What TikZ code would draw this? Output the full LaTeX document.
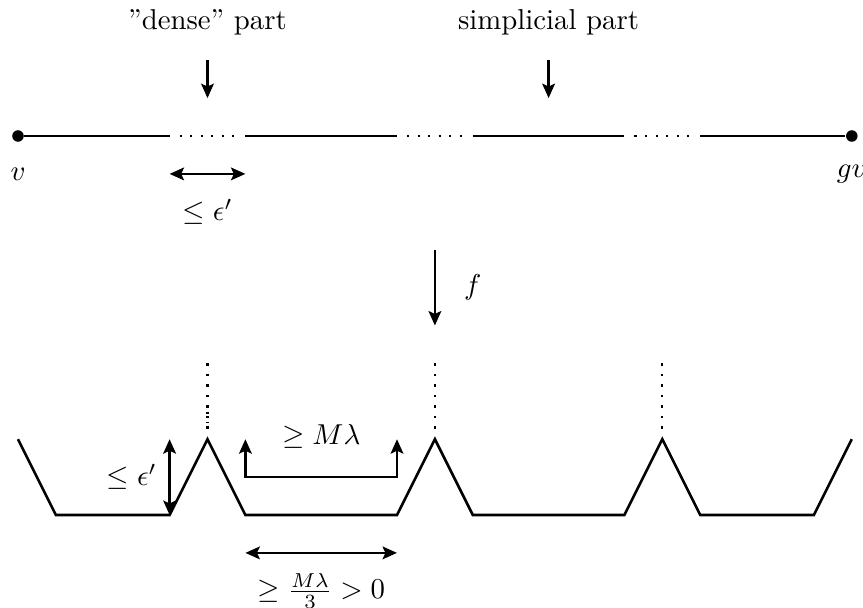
\documentclass[tikz,border=0pt]{standalone}
\usetikzlibrary{arrows.meta}
\begin{document}
\begin{tikzpicture}[x=0.925cm,y=0.925cm,
  line/.style={line width=0.9pt},
  dots/.style={line width=0.75pt, dash pattern=on 0.75pt off 2.9pt},
  arr/.style={line width=0.9pt,-{Stealth[length=5pt,width=4.4pt,inset=1pt]}},
  darr/.style={line width=0.9pt,{Stealth[length=5pt,width=4.4pt,inset=1pt]}-{Stealth[length=5pt,width=4.4pt,inset=1pt]}},
  dot/.style={circle,fill,inner sep=0pt,minimum size=4pt}]
\useasboundingbox (-0.2375,-6.227) rectangle (11.148,1.794);

% top segment
\node[dot] (v) at (0,0) {};
\node[dot] (gv) at (11,0) {};
\coordinate (a1) at (2,0);
\coordinate (a2) at (3,0);
\coordinate (a3) at (5,0);
\coordinate (a4) at (6,0);
\coordinate (a5) at (8,0);
\coordinate (a6) at (9,0);
\draw[line] (v) -- (a1);
\draw[line] (a2) -- (a3);
\draw[line] (a4) -- (a5);
\draw[line] (a6) -- (gv);
\draw[dots, shorten <=3.5pt, shorten >=2pt] (a1) -- (a2);
\draw[dots, shorten <=3.5pt, shorten >=2pt] (a3) -- (a4);
\draw[dots, shorten <=3.5pt, shorten >=2pt] (a5) -- (a6);

\node (vl) at (0,-0.5) {$v$};
\node (gvl) at (11,-0.5) {$gv$};

\node (dense) at (2.5,1.5) {”dense” part};
\coordinate (dA) at (2.5,1);
\coordinate (dB) at (2.5,0.5);
\draw[arr] (dA) -- (dB);
\node (simp) at (7,1.5) {simplicial part};
\coordinate (sA) at (7,1);
\coordinate (sB) at (7,0.5);
\draw[arr] (sA) -- (sB);

\coordinate (eA) at (2,-0.5);
\coordinate (eB) at (3,-0.5);
\draw[darr] (eA) -- (eB);
\node (el) at (2.5,-1) {$\leq \epsilon'$};

% map f
\coordinate (fA) at (5.5,-1.5);
\coordinate (fB) at (5.5,-2.5);
\draw[arr] (fA) -- (fB);
\node (fl) at (6,-2) {$f$};

% bottom zigzag
\coordinate (b0) at (0,-4);
\coordinate (b1) at (0.5,-5);
\coordinate (b2) at (2,-5);
\coordinate (p1) at (2.5,-4);
\coordinate (b3) at (3,-5);
\coordinate (b4) at (5,-5);
\coordinate (p2) at (5.5,-4);
\coordinate (b5) at (6,-5);
\coordinate (b6) at (8,-5);
\coordinate (p3) at (8.5,-4);
\coordinate (b7) at (9,-5);
\coordinate (b8) at (10.5,-5);
\coordinate (b9) at (11,-4);
\draw[line] (b0) -- (b1) -- (b2) -- (p1) -- (b3) -- (b4) -- (p2) -- (b5) -- (b6) -- (p3) -- (b7) -- (b8) -- (b9);

\coordinate (q1) at (2.5,-3);
\coordinate (q2) at (5.5,-3);
\coordinate (q3) at (8.5,-3);
\draw[dots, shorten >=3pt] (q1) -- (p1);
\draw[dots, shorten >=3pt] (q2) -- (p2);
\draw[dots, shorten >=3pt] (q3) -- (p3);
\coordinate (r1) at (2.5,-3.637);
\coordinate (r2) at (2.5,-3.79);
\draw[dots] (r1) -- (r2);

% epsilon' height
\coordinate (hA) at (2,-5);
\coordinate (hB) at (2,-4);
\draw[darr] (hA) -- (hB);
\node (hl) at (1.5,-4.5) {$\leq \epsilon'$};

% M lambda bracket
\coordinate (m1) at (3,-4);
\coordinate (m2) at (3,-4.5);
\coordinate (m3) at (5,-4.5);
\coordinate (m4) at (5,-4);
\draw[darr] (m1) -- (m2) -- (m3) -- (m4);
\node (ml) at (4,-3.97) {$\geq M\lambda$};

% bottom width
\coordinate (wA) at (3,-5.5);
\coordinate (wB) at (5,-5.5);
\draw[darr] (wA) -- (wB);
\node (wl) at (4,-6) {$\geq \frac{M\lambda}{3} > 0$};
\end{tikzpicture}
\end{document}
